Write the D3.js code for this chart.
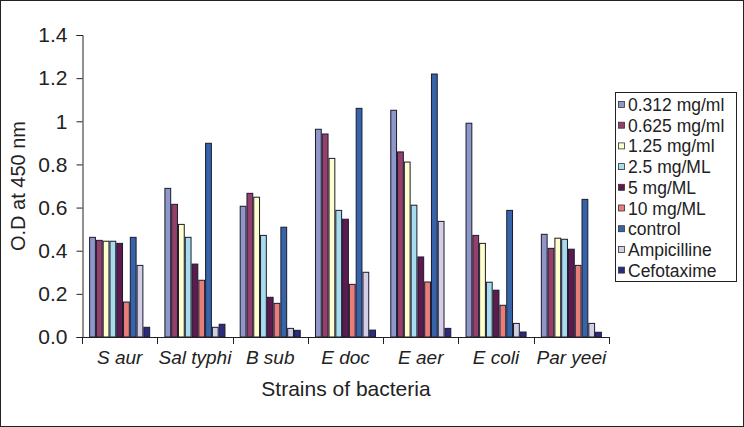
<!DOCTYPE html>
<html><head><meta charset="utf-8">
<script src="https://cdn.jsdelivr.net/npm/d3@7/dist/d3.min.js"></script>
<style>body{margin:0;background:#fff}svg{display:block;font-family:"Liberation Sans",Arial,sans-serif}</style>
</head><body>
<script>
const categories = ["S aur","Sal typhi","B sub","E doc","E aer","E coli","Par yeei"];
const seriesNames = ["0.312 mg/ml","0.625 mg/ml","1.25 mg/ml","2.5 mg/ML","5 mg/ML","10 mg/ML","control","Ampicilline","Cefotaxime"];
const seriesColors = ["#8E97C8","#963F6B","#FFFFCC","#A8DCEC","#5C1A4F","#E97D7A","#3565A8","#D3CEE6","#2B2C7E"];
const s0312 = [0.462,0.689,0.606,0.963,1.051,0.991,0.476];
const s0625 = [0.448,0.615,0.666,0.941,0.858,0.471,0.411];
const s125  = [0.444,0.522,0.648,0.828,0.811,0.434,0.458];
const s25   = [0.444,0.462,0.471,0.587,0.611,0.254,0.453];
const s5    = [0.434,0.338,0.184,0.546,0.371,0.217,0.407];
const s10   = [0.162,0.263,0.156,0.244,0.255,0.147,0.332];
const control = [0.462,0.898,0.509,1.060,1.219,0.587,0.638];
const ampicilline = [0.332,0.045,0.040,0.300,0.536,0.063,0.063];
const cefotaxime = [0.045,0.059,0.031,0.032,0.040,0.023,0.022];
const yTicks = [0,0.2,0.4,0.6,0.8,1,1.2,1.4];
const yTickLabels = ["0.0","0.2","0.4","0.6","0.8","1","1.2","1.4"];

const series = [s0312,s0625,s125,s25,s5,s10,control,ampicilline,cefotaxime];
const W=744,H=427;
const FONT="Liberation Sans, Arial, sans-serif";
const svg=d3.select("body").append("svg").attr("width",W).attr("height",H);
svg.append("rect").attr("x",0.5).attr("y",0.5).attr("width",W-1).attr("height",H-1).attr("fill","#fff").attr("stroke","#222");

const x0=d3.scaleBand().domain(categories).range([82,609]).paddingInner(0).paddingOuter(0);
const x1=d3.scaleBand().domain(d3.range(series.length)).range([0,x0.bandwidth()]).paddingOuter(1.05).paddingInner(0);
const y=d3.scaleLinear().domain([0,1.4]).range([337,35]);

const g=svg.append("g");
categories.forEach((c,ci)=>{
  series.forEach((s,si)=>{
    g.append("rect")
     .attr("x",x0(c)+x1(si)+0.5)
     .attr("y",y(s[ci]))
     .attr("width",x1.bandwidth()-1)
     .attr("height",y(0)-y(s[ci]))
     .attr("fill",seriesColors[si])
     .attr("stroke","#1a1a2e").attr("stroke-width",1);
  });
});

const yAxis=d3.axisLeft(y).tickValues(yTicks).tickFormat((d,i)=>yTickLabels[i]).tickSize(6).tickPadding(9);
const ya=svg.append("g").attr("transform","translate(82.5,0)").call(yAxis);
ya.selectAll("text").attr("font-size",21).attr("fill","#222").attr("font-family",FONT);
ya.selectAll("line,path").attr("stroke","#222");

const xAxis=d3.axisBottom(x0).tickSize(0).tickPadding(0);
const xa=svg.append("g").attr("transform","translate(0,337.5)").call(xAxis);
xa.select(".domain").remove();
xa.selectAll("text").attr("font-size",19).attr("font-style","italic").attr("fill","#222").attr("dy",0).attr("y",26.5).attr("font-family",FONT);
svg.append("line").attr("x1",82).attr("x2",609).attr("y1",337.5).attr("y2",337.5).attr("stroke","#222");
const bounds=categories.map(c=>x0(c)).concat([x0(categories[categories.length-1])+x0.bandwidth()]);
svg.selectAll(".xt").data(bounds).enter().append("line")
  .attr("x1",d=>Math.round(d)+0.5).attr("x2",d=>Math.round(d)+0.5).attr("y1",337).attr("y2",344).attr("stroke","#222");

svg.append("text").attr("x",346).attr("y",396).attr("text-anchor","middle").attr("font-size",21).attr("fill","#222").text("Strains of bacteria");
svg.append("text").attr("transform","translate(25,186) rotate(-90)").attr("text-anchor","middle").attr("font-size",20).attr("fill","#222").text("O.D at 450 nm");

const lg=svg.append("g");
lg.append("rect").attr("x",615.5).attr("y",92.5).attr("width",121).attr("height",189).attr("fill","#fff").attr("stroke","#222");
seriesNames.forEach((n,i)=>{
  const cy=105+i*20.7;
  lg.append("rect").attr("x",618.5).attr("y",cy-3.5).attr("width",6).attr("height",6).attr("fill",seriesColors[i]).attr("stroke","#333").attr("stroke-width",0.8);
  lg.append("text").attr("x",628).attr("y",cy+6).attr("font-size",17.5).attr("fill","#222").text(n);
});
</script>
</body></html>
